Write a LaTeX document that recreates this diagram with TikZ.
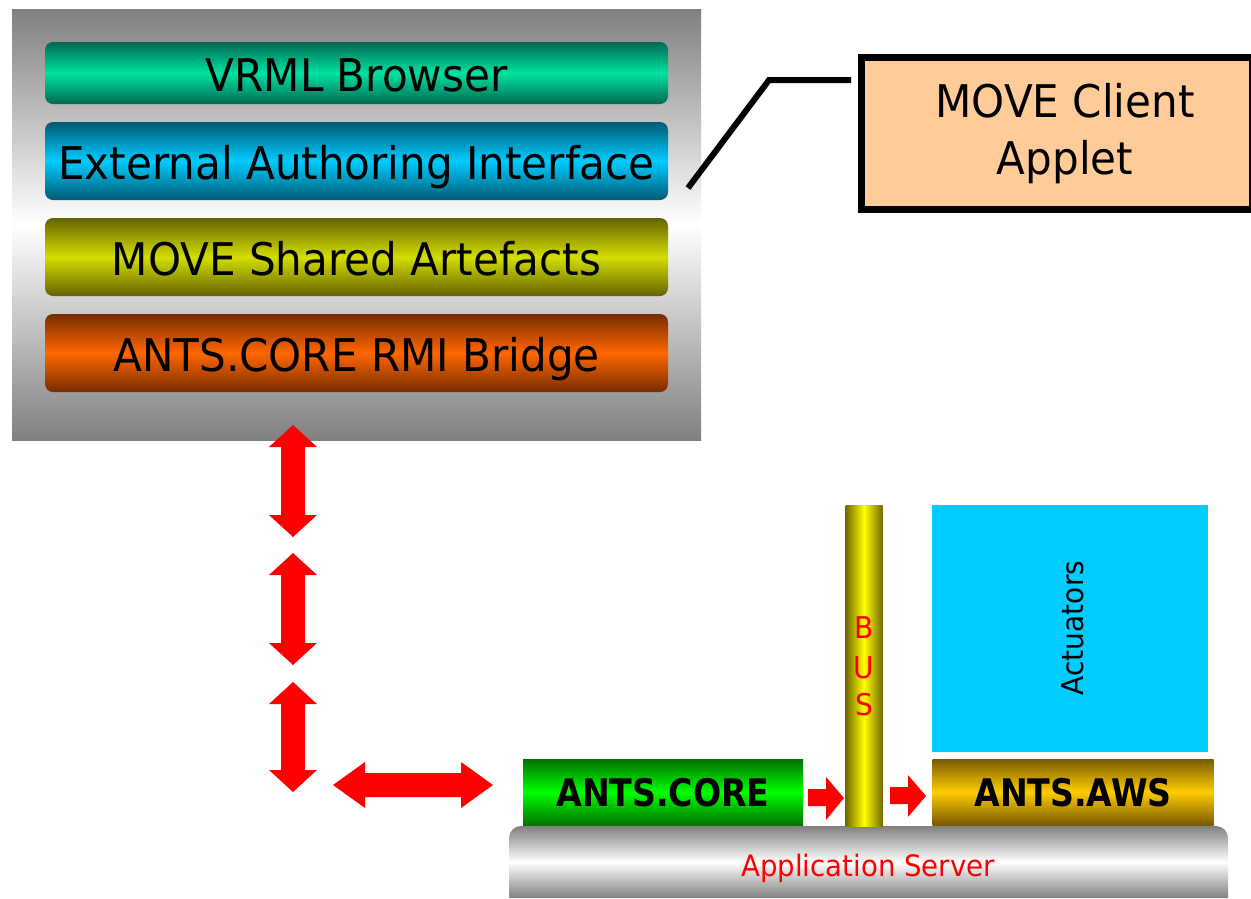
\documentclass[tikz,border=0pt]{standalone}
\usepackage{fontspec}
\newfontfamily\tah[FakeStretch=0.935]{DejaVu Sans}
\newfontfamily\tahb[FakeStretch=0.873]{DejaVu Sans}
\definecolor{gmid}{RGB}{128,128,128}
\definecolor{vrmlD}{RGB}{0,105,85}
\definecolor{vrmlM}{RGB}{0,226,160}
\definecolor{eaiD}{RGB}{0,90,115}
\definecolor{eaiM}{RGB}{0,204,255}
\definecolor{msaD}{RGB}{100,100,0}
\definecolor{msaM}{RGB}{212,222,0}
\definecolor{rmiD}{RGB}{120,45,0}
\definecolor{rmiM}{RGB}{255,102,0}
\definecolor{corD}{RGB}{0,115,0}
\definecolor{corM}{RGB}{0,255,0}
\definecolor{awsD}{RGB}{120,90,0}
\definecolor{awsM}{RGB}{255,204,0}
\definecolor{busD}{RGB}{115,105,0}
\definecolor{busM}{RGB}{255,255,0}
\definecolor{appletC}{RGB}{255,204,153}
\definecolor{actC}{RGB}{0,204,255}
\tikzset{
  bar/.style={rounded corners=8pt, minimum width=623pt, inner sep=0pt,
    text height=37pt, text depth=0pt,
    font=\tah\fontsize{45}{54}\selectfont, text=black},
  redarrow/.style={fill=red},
  bottombox/.style={inner sep=0pt, text height=28pt, text depth=0pt,
    font=\tahb\bfseries\fontsize{38}{44}\selectfont, text=black},
}
\newcommand\vdarr[3]{%
  \fill[redarrow] (#1,#2) -- (#1+24,#2+22) -- (#1+12,#2+22) -- (#1+12,#3-22) -- (#1+24,#3-22)
    -- (#1,#3) -- (#1-24,#3-22) -- (#1-12,#3-22) -- (#1-12,#2+22) -- (#1-24,#2+22) -- cycle;}
\begin{document}
\begin{tikzpicture}[x=1pt,y=-1pt]
\useasboundingbox (0,0) rectangle (1251,898);
% outer gray box
\node[inner sep=0pt, minimum width=689pt, minimum height=431pt,
  top color=gmid, bottom color=gmid, middle color=white] (client) at (356.5,224.5) {};
% layers
\node[bar, minimum height=62pt, top color=vrmlD, bottom color=vrmlD, middle color=vrmlM] (vrml) at (356.5,73) {VRML Browser};
\node[bar, minimum height=78pt, top color=eaiD, bottom color=eaiD, middle color=eaiM] (eai) at (356.5,161) {External Authoring Interface};
\node[bar, minimum height=78pt, top color=msaD, bottom color=msaD, middle color=msaM] (msa) at (356.5,257) {MOVE Shared Artefacts};
\node[bar, minimum height=78pt, top color=rmiD, bottom color=rmiD, middle color=rmiM] (rmi) at (356.5,353) {ANTS.CORE RMI Bridge};
% applet box
\node[draw=black, line width=7pt, fill=appletC, minimum width=391pt, minimum height=152pt,
  inner sep=0pt] (applet) at (1056.5,133) {};
\node[font=\tah\fontsize{45}{56}\selectfont, inner sep=0pt, text height=33pt, text depth=0pt] (appletA) at (1065,101) {MOVE Client};
\node[font=\tah\fontsize{45}{56}\selectfont, inner sep=0pt, text height=33pt, text depth=0pt] (appletB) at (1065,158) {Applet};
\coordinate (c1) at (688,188);
\coordinate (c2) at (769,80);
\coordinate (c3) at (851,80);
\draw[line width=6pt, line join=miter] (c1) -- (c2) -- (c3);
% red double arrows
\vdarr{293}{425}{537}
\vdarr{293}{553}{665}
\vdarr{293}{682}{792}
\fill[redarrow] (333,785) -- (365,762) -- (365,773) -- (461,773) -- (461,762) -- (493,785)
  -- (461,808) -- (461,797) -- (365,797) -- (365,808) -- cycle;
% application server
\path[top color=gmid, bottom color=gmid, middle color=white]
  (509,898) [rounded corners=12pt] -- (509,826) -- (1228,826) [sharp corners] -- (1228,898) -- cycle;
\node[text=red, font=\tah\fontsize{29.5}{34}\selectfont, inner sep=0pt, text height=21.5pt, text depth=0pt] (appsrv) at (868,866) {Application Server};
% ants.core
\node[bottombox, minimum width=280pt, minimum height=66pt, top color=corD, bottom color=corD, middle color=corM] (core) at (663,792) {ANTS.CORE};
% bus
\node[inner sep=0pt, minimum width=37pt, minimum height=321pt, left color=busD, right color=busD, middle color=busM] (bus) at (864,665.5) {};
\node[text=red, font=\tah\fontsize{30}{36}\selectfont, inner sep=0pt] (busB) at (864,628) {B};
\node[text=red, font=\tah\fontsize{30}{36}\selectfont, inner sep=0pt] (busU) at (864,668) {U};
\node[text=red, font=\tah\fontsize{30}{36}\selectfont, inner sep=0pt] (busS) at (864,705) {S};
% actuators
\node[fill=actC, inner sep=0pt, minimum width=276pt, minimum height=247pt] (act) at (1070,628.5) {};
\node[rotate=90, font=\tah\fontsize{30}{36}\selectfont, inner sep=0pt] (actT) at (1073,628) {Actuators};
% ants.aws
\node[bottombox, minimum width=281pt, minimum height=66pt, top color=awsD, bottom color=awsD, middle color=awsM] (aws) at (1073,792) {ANTS.AWS};
% small arrows
\fill[redarrow] (808,789) -- (826,789) -- (826,777) -- (844,798) -- (826,820) -- (826,806) -- (808,806) -- cycle;
\fill[redarrow] (890,787) -- (908,787) -- (908,775) -- (926,796) -- (908,817) -- (908,804) -- (890,804) -- cycle;
\end{tikzpicture}
\end{document}
